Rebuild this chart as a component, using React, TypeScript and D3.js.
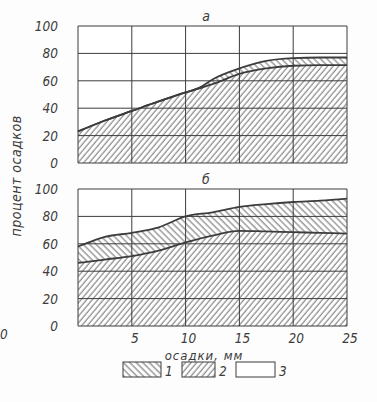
import React from "react";
import * as d3 from "d3";

// x values (осадки, мм)
const xsA = [0, 2.5, 5, 7.5, 10, 11.3, 12.5, 15, 17.5, 20, 22.5, 25];
const lowerA = [23, 31, 38, 45, 51.5, 54.5, 57.5, 65, 69, 71, 71.5, 71.5];
const upperA = [23, 31, 38, 45, 51.5, 55, 61, 69, 74.5, 76.5, 77, 77];

const xsB = [0, 1, 2.5, 5, 7.5, 10, 12.5, 15, 17.5, 20, 22.5, 25];
const lowerB = [46, 47, 48.5, 51, 55, 61, 66, 69.5, 69, 68.5, 68, 67.5];
const upperB = [58, 61, 65, 68, 72, 80, 83, 87, 89, 90.5, 91.5, 93];

const yTicks = [0, 20, 40, 60, 80, 100];
const xTicks = [5, 10, 15, 20, 25];
const xGrid = [0, 5, 10, 15, 20, 25];
const legendItems = ["1", "2", "3"];

const W = 377;
const H = 402;
const L = 78;
const R = 347;
const FONT = "'Liberation Sans Narrow', 'DejaVu Sans Condensed', 'DejaVu Sans', sans-serif";
const INK = "#3c3c3c";

function Panel({ top, bottom, xs, lower, upper, title, curve }: any) {
  const x = d3.scaleLinear().domain([0, 25]).range([L, R]);
  const y = d3.scaleLinear().domain([0, 100]).range([bottom, top]);
  const idx = xs.map((_: number, i: number) => i);
  const area2 = d3
    .area<number>()
    .x((i) => x(xs[i]))
    .y0(() => y(0))
    .y1((i) => y(lower[i]))
    .curve(curve);
  const lineUp = d3.line<number>().x((i) => x(xs[i])).y((i) => y(upper[i])).curve(curve);
  const lineLo = d3.line<number>().x((i) => x(xs[i])).y((i) => y(lower[i])).curve(curve);
  const upPath = lineUp(idx) as string;
  const loRev = d3
    .line<number>()
    .x((i) => x(xs[i]))
    .y((i) => y(lower[i]))
    .curve(curve)(idx.slice().reverse()) as string;
  const band = upPath + "L" + loRev.slice(1) + "Z";
  return (
    <g>
      <rect x={L} y={top} width={R - L} height={bottom - top} fill="#fff" />
      <path d={band} fill="url(#hatch1)" />
      <path d={area2(idx) as string} fill="url(#hatch2)" />
      {yTicks.map((v) => (
        <line key={"h" + v} x1={L} x2={R} y1={y(v)} y2={y(v)} stroke={INK} strokeWidth={1} />
      ))}
      {xGrid.map((v) => (
        <line key={"v" + v} x1={x(v)} x2={x(v)} y1={top} y2={bottom} stroke={INK} strokeWidth={1} />
      ))}
      <path d={lineLo(idx) as string} fill="none" stroke={INK} strokeWidth={1.8} />
      <path d={upPath} fill="none" stroke={INK} strokeWidth={1.8} />
      {yTicks.map((v) => (
        <text
          key={"t" + v}
          x={58}
          y={y(v) + 5}
          textAnchor="end"
          fontSize={13.5}
          fontStyle="italic"
          fontFamily={FONT}
          fill={INK}
        >
          {v}
        </text>
      ))}
      <text x={206} y={top - 5} textAnchor="middle" fontSize={14} fontStyle="italic" fontFamily={FONT} fill={INK}>
        {title}
      </text>
    </g>
  );
}

export default function App() {
  const x = d3.scaleLinear().domain([0, 25]).range([L, R]);
  const legendX = [123, 182, 236];
  const legendW = [38, 33, 39];
  const legendFill = ["url(#hatch1)", "url(#hatch2)", "#fff"];
  return (
    <svg
      width={W}
      height={H}
      style={{ position: "absolute", left: 0, top: 0, background: "#fdfdfd" }}
    >
      <defs>
        <pattern id="hatch1" patternUnits="userSpaceOnUse" width={4.6} height={10} patternTransform="rotate(-45)">
          <line x1={1} y1={0} x2={1} y2={10} stroke={INK} strokeWidth={0.8} />
        </pattern>
        <pattern id="hatch2" patternUnits="userSpaceOnUse" width={4.3} height={10} patternTransform="rotate(40)">
          <line x1={1} y1={0} x2={1} y2={10} stroke={INK} strokeWidth={0.8} />
        </pattern>
      </defs>
      <Panel top={26} bottom={163} xs={xsA} lower={lowerA} upper={upperA} title="а" curve={d3.curveMonotoneX} />
      <Panel top={189} bottom={326} xs={xsB} lower={lowerB} upper={upperB} title="б" curve={d3.curveMonotoneX} />
      {xTicks.map((v) => (
        <text
          key={"xt" + v}
          x={x(v) + 3}
          y={343}
          textAnchor="middle"
          fontSize={13.5}
          fontStyle="italic"
          fontFamily={FONT}
          fill={INK}
        >
          {v}
        </text>
      ))}
      <text x={204} y={360} textAnchor="middle" fontSize={13} fontStyle="italic" fontFamily={FONT} fill={INK} letterSpacing={1}>
        осадки, мм
      </text>
      <text
        transform="translate(21,176) rotate(-90)"
        textAnchor="middle"
        fontSize={14}
        fontStyle="italic"
        fontFamily={FONT}
        fill={INK}
        letterSpacing={0.5}
      >
        процент осадков
      </text>
      <text x={0} y={339} fontSize={13.5} fontStyle="italic" fontFamily={FONT} fill={INK}>
        0
      </text>
      {legendItems.map((lab, i) => (
        <g key={"lg" + lab}>
          <rect
            x={legendX[i]}
            y={362}
            width={legendW[i]}
            height={15}
            fill={legendFill[i]}
            stroke={INK}
            strokeWidth={1}
          />
          <text
            x={legendX[i] + legendW[i] + 4}
            y={376}
            fontSize={13.5}
            fontStyle="italic"
            fontFamily={FONT}
            fill={INK}
          >
            {lab}
          </text>
        </g>
      ))}
    </svg>
  );
}
